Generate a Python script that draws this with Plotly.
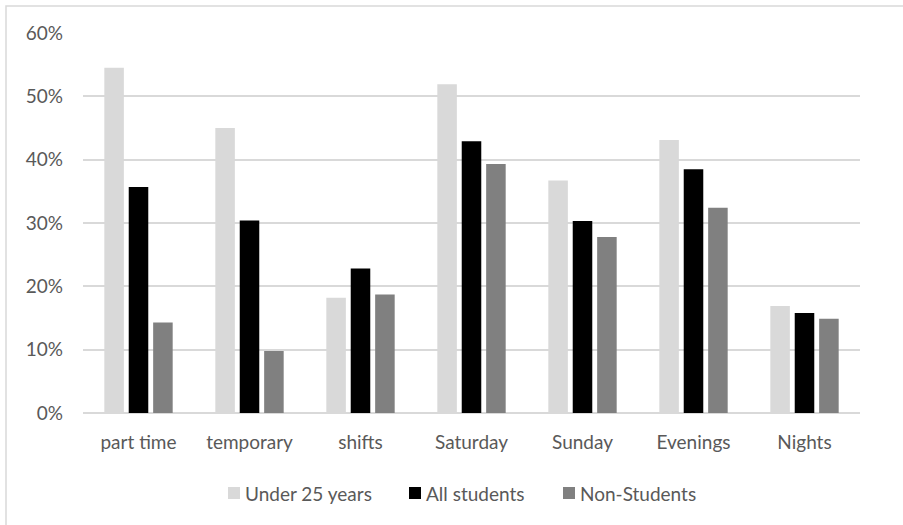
import plotly.graph_objects as go

# Share of workers in each working-time arrangement, by group (%)
categories = ["part time", "temporary", "shifts", "Saturday", "Sunday", "Evenings", "Nights"]
under_25 = [54.5, 45.0, 18.2, 51.9, 36.7, 43.1, 16.9]
all_students = [35.7, 30.4, 22.8, 42.9, 30.3, 38.5, 15.8]
non_students = [14.3, 9.8, 18.7, 39.3, 27.8, 32.4, 14.9]
series_names = ["Under 25 years", "All students", "Non-Students"]
y_ticks = [0, 10, 20, 30, 40, 50, 60]
y_tick_labels = ["0%", "10%", "20%", "30%", "40%", "50%", "60%"]

colors = ["#d9d9d9", "#000000", "#808080"]
FONT = "Lato, 'Open Sans', sans-serif"
FS = 19
TEXT_COLOR = "#595959"

W, H = 903, 525
M_L, M_R, M_T, M_B = 83, 43, 33, 112
PW, PH = W - M_L - M_R, H - M_T - M_B


def px_x(px):
    return (px - M_L) / PW


def px_y(py):
    return (H - M_B - py) / PH


fig = go.Figure()
for name, vals, col in zip(series_names, [under_25, all_students, non_students], colors):
    fig.add_trace(go.Bar(x=categories, y=vals, name=name, marker_color=col,
                         marker_line_width=0, showlegend=False))

# Outer chart frame
fig.add_shape(type="rect", xref="paper", yref="paper",
              x0=px_x(6), x1=px_x(910), y0=px_y(530), y1=px_y(6),
              line=dict(color="#d9d9d9", width=1.5), layer="below")

# Legend row under the axis: swatch left edge, label left edge
legend_items = [(228, 243), (409, 424), (563, 578)]
for (sx, tx), name, col in zip(legend_items, series_names, colors):
    fig.add_shape(type="rect", xref="paper", yref="paper",
                  x0=px_x(sx), x1=px_x(sx + 12), y0=px_y(499), y1=px_y(487),
                  fillcolor=col, line_width=0)
    fig.add_annotation(xref="paper", yref="paper", x=px_x(tx), y=px_y(493),
                       xanchor="left", yanchor="middle", showarrow=False,
                       text=name, font=dict(family=FONT, size=FS, color=TEXT_COLOR))

fig.update_layout(
    width=W, height=H,
    margin=dict(l=M_L, r=M_R, t=M_T, b=M_B),
    paper_bgcolor="white", plot_bgcolor="white",
    barmode="group", bargap=0.34, bargroupgap=0.2,
    font=dict(family=FONT, size=FS, color=TEXT_COLOR),
    showlegend=False,
)
fig.update_xaxes(showgrid=False, showline=False, ticks="", ticklabelstandoff=16,
                 tickfont=dict(family=FONT, size=FS, color=TEXT_COLOR))
fig.update_yaxes(range=[0, 60], tickmode="array", tickvals=y_ticks, ticktext=y_tick_labels,
                 showgrid=True, gridcolor="#d9d9d9", gridwidth=1.5,
                 zeroline=True, zerolinecolor="#d9d9d9", zerolinewidth=1.5,
                 showline=False, ticks="", ticklabelstandoff=19,
                 tickfont=dict(family=FONT, size=FS, color=TEXT_COLOR))

fig.write_html("out.html")
